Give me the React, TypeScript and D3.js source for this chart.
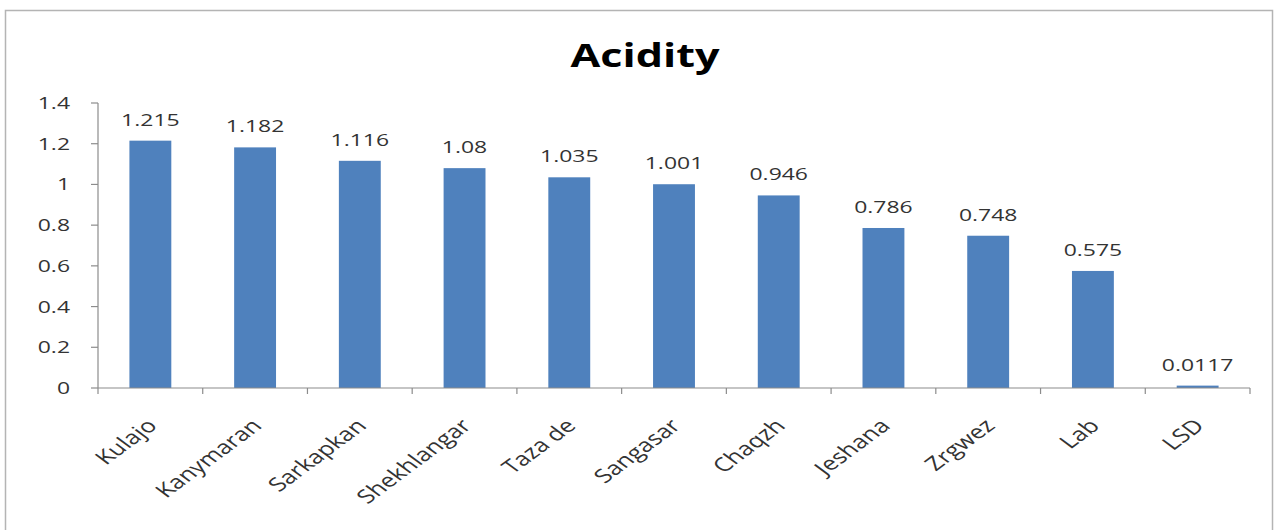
import React from "react";
import * as d3 from "d3";

const categories = ["Kulajo", "Kanymaran", "Sarkapkan", "Shekhlangar", "Taza de", "Sangasar", "Chaqzh", "Jeshana", "Zrgwez", "Lab", "LSD"];
const values = [1.215, 1.182, 1.116, 1.08, 1.035, 1.001, 0.946, 0.786, 0.748, 0.575, 0.0117];
const valueLabels = ["1.215", "1.182", "1.116", "1.08", "1.035", "1.001", "0.946", "0.786", "0.748", "0.575", "0.0117"];
const yTicks = [0, 0.2, 0.4, 0.6, 0.8, 1, 1.2, 1.4];
const title = "Acidity";

const W = 1278;
const H = 530;
const plot = { left: 98, right: 1250, top: 103, bottom: 388 };
const FONT = "'Open Sans', 'DejaVu Sans', sans-serif";
const SX = 1.35;

export default function App() {
  const x = d3
    .scaleBand<string>()
    .domain(categories)
    .range([plot.left, plot.right])
    .paddingInner(0.6)
    .paddingOuter(0.3);
  const y = d3.scaleLinear().domain([0, 1.4]).range([plot.bottom, plot.top]);
  const step = x.step();
  const boundaries = d3.range(categories.length + 1).map((i) => plot.left + i * step);
  const axisColor = "#8c8c8c";
  const textColor = "#333333";

  return (
    <svg width={W} height={H} style={{ position: "absolute", left: 0, top: 0 }}>
      <rect x={0} y={0} width={W} height={H} fill="#fff" />
      <rect x={5.5} y={10.5} width={1267} height={530} fill="#fff" stroke="#b4b4b4" strokeWidth={1.5} />
      <text
        transform={`translate(645,67) scale(${SX},1)`}
        textAnchor="middle"
        fontFamily={FONT}
        fontWeight="bold"
        fontSize={32}
        fill="#000"
      >
        {title}
      </text>
      {/* y axis */}
      <line x1={plot.left} x2={plot.left} y1={plot.top} y2={plot.bottom} stroke={axisColor} strokeWidth={1.2} />
      {yTicks.map((t) => (
        <g key={t}>
          <line x1={plot.left - 7} x2={plot.left} y1={y(t)} y2={y(t)} stroke={axisColor} strokeWidth={1.2} />
          <text
            transform={`translate(${plot.left - 28},${y(t) + 6}) scale(${SX},1)`}
            textAnchor="end"
            fontFamily={FONT}
            fontSize={17}
            fill={textColor}
          >
            {String(t)}
          </text>
        </g>
      ))}
      {/* bars */}
      {categories.map((c, i) => (
        <rect key={c} x={x(c)} y={y(values[i])} width={x.bandwidth()} height={plot.bottom - y(values[i])} fill="#4F81BD" />
      ))}
      {/* x axis */}
      <line x1={plot.left} x2={plot.right} y1={plot.bottom} y2={plot.bottom} stroke={axisColor} strokeWidth={1.2} />
      {boundaries.map((b, i) => (
        <line key={i} x1={b} x2={b} y1={plot.bottom} y2={plot.bottom + 6} stroke={axisColor} strokeWidth={1.2} />
      ))}
      {/* value labels */}
      {categories.map((c, i) => (
        <text
          key={c}
          transform={`translate(${(x(c) as number) + x.bandwidth() / 2},${y(values[i]) - 15}) scale(${SX},1)`}
          textAnchor="middle"
          fontFamily={FONT}
          fontSize={17}
          fill={textColor}
        >
          {valueLabels[i]}
        </text>
      ))}
      {/* category labels */}
      {categories.map((c) => {
        const cx = (x(c) as number) + x.bandwidth() / 2 + 8;
        const cy = plot.bottom + 39;
        return (
          <text
            key={c}
            transform={`translate(${cx},${cy}) scale(${SX},1) rotate(-45)`}
            textAnchor="end"
            fontFamily={FONT}
            fontSize={19}
            fill={textColor}
          >
            {c}
          </text>
        );
      })}
    </svg>
  );
}
